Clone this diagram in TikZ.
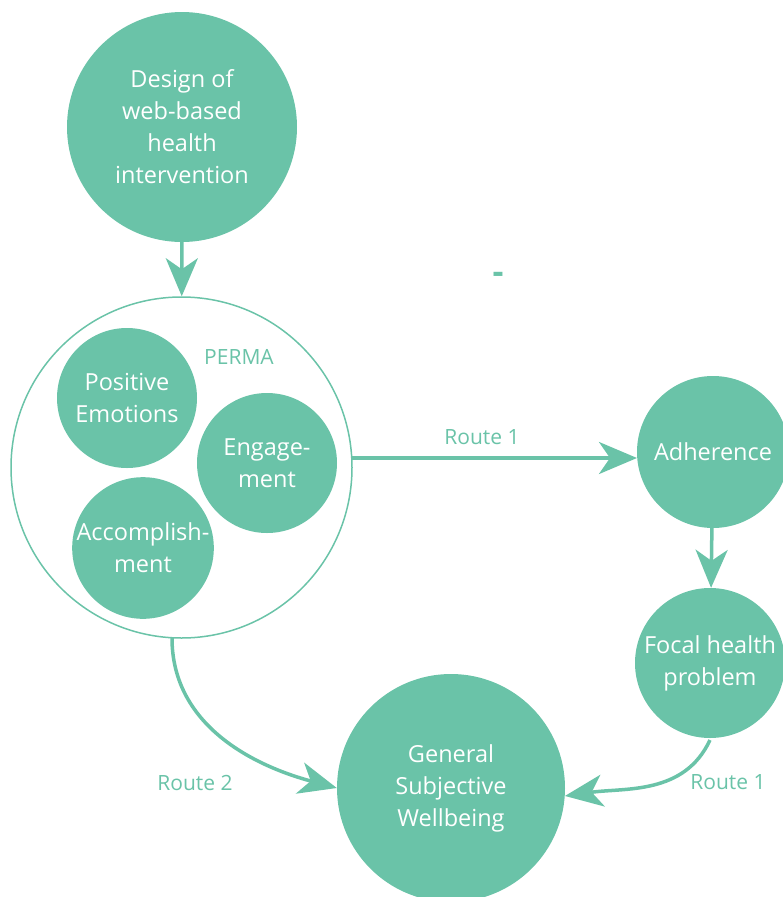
\documentclass[tikz,border=0pt]{standalone}
\usepackage{fontspec}
\setmainfont{Open Sans}
\usetikzlibrary{arrows.meta, positioning}
\definecolor{mint}{RGB}{106,195,168}
\tikzstyle{bubble} = [circle, fill=mint, text=white, align=center, inner sep=0pt, font=\fontsize{23.5}{32}\selectfont]
\tikzstyle{frame} = [circle, draw=mint, line width=1.5pt, inner sep=0pt]
\tikzstyle{route} = [draw=mint, line width=3.5pt, -{Stealth[length=38pt, width=32pt, inset=11pt]}]
\tikzstyle{tag} = [text=mint, font=\fontsize{21}{24}\selectfont]

\begin{document}
\begin{tikzpicture}[x=1pt, y=-1pt]
	\useasboundingbox (0, 0) rectangle (783, 897);

	\node (Design) [bubble, minimum size=230pt] at (182, 127) {Design of\\web-based\\health\\intervention};

	% PERMA group
	\node (Perma) [frame, minimum size=341pt] at (181.5, 467.5) {};
	\node (PermaLabel) [tag] at (239, 357) {PERMA};
	\node (Positive) [bubble, minimum size=140pt] at (127, 398) {Positive\\Emotions};
	\node (Engage) [bubble, minimum size=140pt] at (267, 463) {Engage-\\ment};
	\node (Accomp) [bubble, minimum size=140pt] at (143, 548) {Accomplish-\\ment};

	\draw [route] (Design) -- (Perma);

	% route 1
	\node (Adherence) [bubble, minimum size=152pt] at (713, 452) {Adherence};
	\node (Focal) [bubble, minimum size=150pt] at (710, 663) {Focal health\\problem};
	\coordinate (PermaOut) at (352, 458);
	\coordinate (AdhIn) at (637, 458);
	\draw [route] (PermaOut) -- (AdhIn);
	\node (Route1Top) [tag] at (482, 437) {Route 1};
	\draw [route] (Adherence) -- (Focal);

	\node (General) [bubble, minimum size=228pt] at (451, 788) {General\\Subjective\\Wellbeing};

	\coordinate (FocalOut) at (710, 740);
	\draw [route] (FocalOut) to[out=-115, in=8] (General.-4);
	\node (Route1Low) [tag] at (728, 782) {Route 1};

	% route 2
	\coordinate (PermaDown) at (172, 638);
	\draw [route] (PermaDown) to[out=-90, in=165] (General.west);
	\node (Route2) [tag] at (195, 783) {Route 2};

	\node (Dash) [tag, font=\bfseries\fontsize{34}{36}\selectfont] at (498, 278) {-};
\end{tikzpicture}
\end{document}
